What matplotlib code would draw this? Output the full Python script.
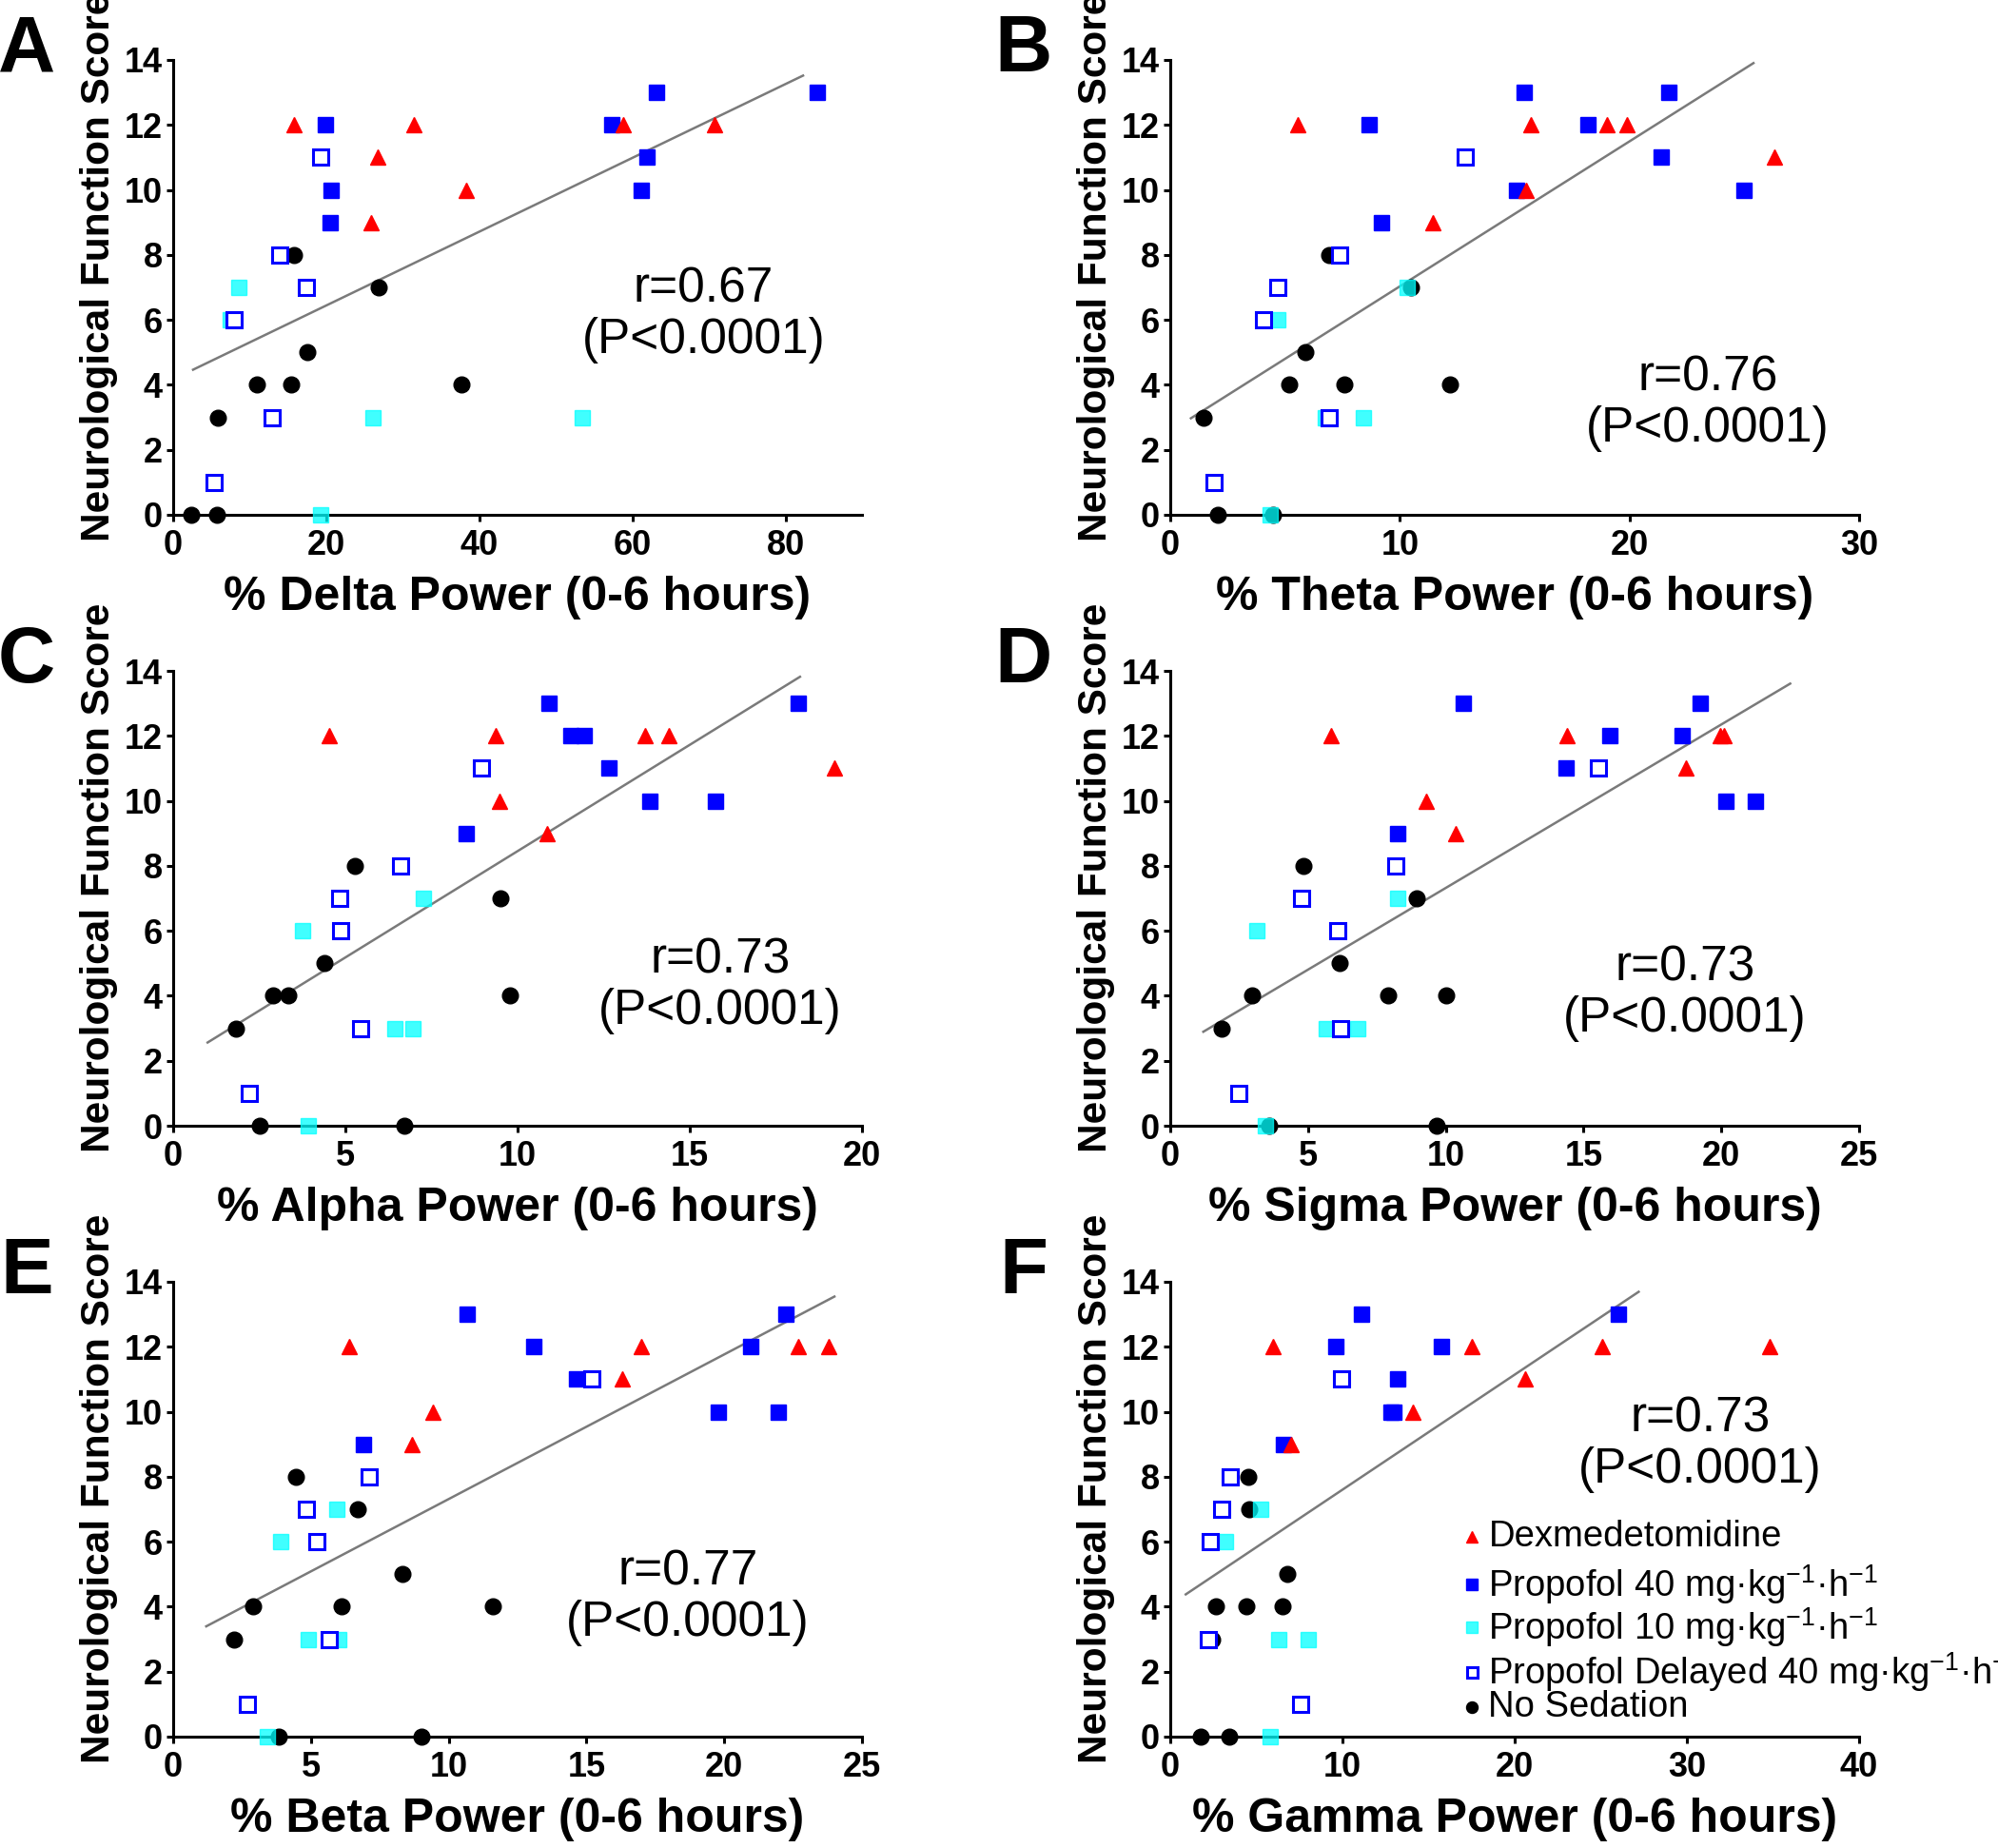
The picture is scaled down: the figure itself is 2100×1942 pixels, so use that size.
import numpy as np
import matplotlib.pyplot as plt

plt.rcParams['font.family'] = ['Liberation Sans', 'DejaVu Sans']
plt.rcParams['mathtext.fontset'] = 'custom'
plt.rcParams['mathtext.rm'] = 'Liberation Sans'
plt.rcParams['mathtext.it'] = 'Liberation Sans:italic'
plt.rcParams['mathtext.bf'] = 'Liberation Sans:bold'

# ---- data ----
PANELS = ["A", "B", "C", "D", "E", "F"]
BANDS = ["Delta", "Theta", "Alpha", "Sigma", "Beta", "Gamma"]
X_MAX = [90, 30, 20, 25, 25, 40]
X_TICKS = [[0, 20, 40, 60, 80], [0, 10, 20, 30], [0, 5, 10, 15, 20],
           [0, 5, 10, 15, 20, 25], [0, 5, 10, 15, 20, 25], [0, 10, 20, 30, 40]]
R_VALUES = ["0.67", "0.76", "0.73", "0.73", "0.77", "0.73"]
FIT_X = [(2.6, 82.3), (0.9, 25.4), (1.0, 18.2), (1.2, 22.5), (1.2, 24.0), (0.9, 27.2)]

# neurological scores per group (same animals in every panel)
DEX_Y = [12, 12, 12, 12, 11, 10, 9]
P40_Y = [13, 13, 12, 12, 11, 10, 10, 9]
P10_Y = [7, 6, 3, 3, 0]
PD40_Y = [11, 8, 7, 6, 3, 1]
NS_Y = [8, 7, 5, 4, 4, 4, 3, 0, 0]

# % power per panel, in the same order as the scores above
DEX_X = [
    [15.8, 31.4, 58.8, 70.7, 26.7, 38.3, 25.9],
    [5.56, 15.7, 19.0, 19.9, 26.3, 15.5, 11.45],
    [4.52, 9.37, 13.7, 14.4, 19.2, 9.48, 10.87],
    [5.83, 14.4, 19.95, 20.1, 18.7, 9.3, 10.37],
    [6.4, 17.0, 22.7, 23.8, 16.3, 9.41, 8.65],
    [5.97, 17.5, 25.07, 34.8, 20.6, 14.1, 7.0],
]
P40_X = [
    [63.1, 84.2, 19.9, 57.3, 61.9, 20.6, 61.2, 20.5],
    [15.4, 21.7, 8.64, 18.2, 21.4, 15.1, 25.0, 9.2],
    [10.9, 18.14, 11.54, 11.93, 12.66, 13.84, 15.74, 8.5],
    [10.63, 19.23, 15.97, 18.57, 14.37, 20.18, 21.23, 8.26],
    [10.67, 22.25, 13.1, 20.96, 14.64, 19.79, 21.96, 6.9],
    [11.1, 26.0, 9.64, 15.77, 13.2, 12.8, 13.0, 6.6],
]
P10_X = [
    [8.6, 7.5, 26.1, 53.4, 19.3],
    [10.3, 4.68, 6.74, 8.43, 4.34],
    [7.27, 3.75, 6.43, 6.96, 3.91],
    [8.24, 3.14, 5.68, 6.81, 3.46],
    [5.93, 3.89, 4.92, 6.0, 3.42],
    [5.24, 3.22, 6.29, 7.99, 5.82],
]
PD40_X = [
    [19.3, 13.9, 17.4, 8.0, 12.9, 5.3],
    [12.85, 7.39, 4.68, 4.05, 6.94, 1.89],
    [8.95, 6.61, 4.84, 4.86, 5.45, 2.2],
    [15.53, 8.2, 4.77, 6.09, 6.19, 2.47],
    [15.2, 7.13, 4.84, 5.23, 5.65, 2.69],
    [9.96, 3.48, 2.96, 2.3, 2.2, 7.55],
]
NS_X = [
    [15.8, 26.8, 17.5, 10.9, 15.4, 37.7, 5.9, 2.4, 5.7],
    [6.9, 10.5, 5.9, 5.19, 7.6, 12.2, 1.43, 2.08, 4.48],
    [5.27, 9.5, 4.39, 2.91, 3.33, 9.77, 1.81, 2.52, 6.7],
    [4.85, 8.93, 6.14, 2.96, 7.9, 10.0, 1.87, 3.59, 9.68],
    [4.47, 6.7, 8.32, 2.91, 6.1, 11.6, 2.2, 3.84, 9.0],
    [4.53, 4.56, 6.81, 2.67, 4.43, 6.52, 2.41, 1.76, 3.4],
]

LEGEND_LABELS = [
    "Dexmedetomidine",
    "Propofol 40 mg·kg$^{-1}$·h$^{-1}$",
    "Propofol 10 mg·kg$^{-1}$·h$^{-1}$",
    "Propofol Delayed 40 mg·kg$^{-1}$·h$^{-1}$",
    "No Sedation",
]

# ---- styles ----
STYLE_NS = dict(marker='o', color='black', ms=12)
STYLE_P10 = dict(marker='s', color='#00FFFF', alpha=0.75, ms=12)
STYLE_PD40 = dict(marker='s', mfc='white', mec='#0000FF', mew=2.2, ms=11)
STYLE_P40 = dict(marker='s', color='#0000FF', ms=12)
STYLE_DEX = dict(marker='^', color='#FF0000', ms=12)
LEGEND_STYLES = [STYLE_DEX, STYLE_P40, STYLE_P10, STYLE_PD40, STYLE_NS]

W, H = 2100, 1942
fig = plt.figure(figsize=(W / 100, H / 100), dpi=100)

col_left = [182, 1230]
row_bottom = [541, 1183, 1825]
ax_w, ax_h = 724, 478

r_pos = [(0.770, 0.440), (0.780, 0.245), (0.794, 0.308),
         (0.747, 0.291), (0.747, 0.305), (0.769, 0.642)]

for i, name in enumerate(PANELS):
    row, col = divmod(i, 2)
    left = col_left[col] / W
    bottom = 1 - row_bottom[row] / H
    ax = fig.add_axes([left, bottom, ax_w / W, ax_h / H])

    groups = [
        (NS_X[i], NS_Y, STYLE_NS),
        (P10_X[i], P10_Y, STYLE_P10),
        (PD40_X[i], PD40_Y, STYLE_PD40),
        (P40_X[i], P40_Y, STYLE_P40),
        (DEX_X[i], DEX_Y, STYLE_DEX),
    ]
    all_x, all_y = [], []
    for xs, ys, st in groups:
        ax.plot(xs, ys, ls='none', clip_on=False, zorder=3, **st)
        all_x += list(xs)
        all_y += list(ys)

    # linear regression through all animals
    slope, icpt = np.polyfit(all_x, all_y, 1)
    fx = np.array(FIT_X[i])
    ax.plot(fx, slope * fx + icpt, color='#7a7a7a', lw=1.8, zorder=2)

    ax.set_xlim(0, X_MAX[i])
    ax.set_ylim(0, 14)
    ax.set_xticks(X_TICKS[i])
    ax.set_yticks(range(0, 15, 2))
    for s in ['top', 'right']:
        ax.spines[s].set_visible(False)
    for s in ['left', 'bottom']:
        ax.spines[s].set_linewidth(2.2)
    ax.tick_params(direction='out', length=5, width=2.2, labelsize=26)
    ax.tick_params(axis='y', pad=3)
    ax.tick_params(axis='x', pad=6)
    for lab in ax.get_xticklabels() + ax.get_yticklabels():
        lab.set_fontweight('bold')

    ax.set_xlabel(f"% {BANDS[i]} Power (0-6 hours)", fontsize=36,
                  fontweight='bold', labelpad=10)
    ax.text(-0.108, 0.545, "Neurological Function Score", transform=ax.transAxes,
            rotation=90, ha='center', va='center', fontsize=30.5, fontweight='bold')
    ax.text(-0.213, 1.02, name, transform=ax.transAxes, ha='center', va='center',
            fontsize=60, fontweight='bold')
    ax.text(r_pos[i][0], r_pos[i][1], f"r={R_VALUES[i]}\n(P<0.0001)",
            transform=ax.transAxes, ha='center', va='center', fontsize=37,
            linespacing=1.12)

    if name == "F":
        leg_y = [0.439, 0.335, 0.241, 0.142, 0.065]
        for lab, st, yy in zip(LEGEND_LABELS, LEGEND_STYLES, leg_y):
            st2 = dict(st)
            st2['ms'] = st['ms'] * 0.72
            ax.plot([0.438], [yy], transform=ax.transAxes, ls='none',
                    clip_on=False, **st2)
            ax.text(0.462, yy, lab, transform=ax.transAxes, ha='left',
                    va='center', fontsize=27.5)

fig.savefig("out.png", dpi=100)
